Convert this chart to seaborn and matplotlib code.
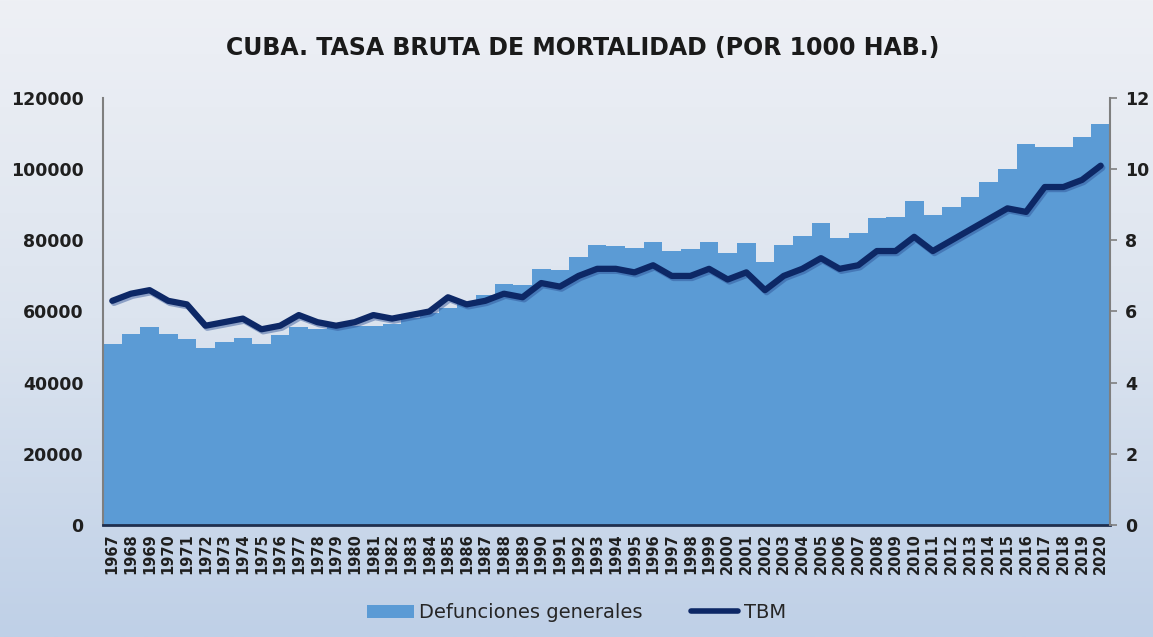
import numpy as np
import pandas as pd
import matplotlib
matplotlib.use("Agg")
import matplotlib.pyplot as plt
import matplotlib.patheffects as pe
from matplotlib.patches import Patch
from matplotlib.lines import Line2D
from matplotlib.colors import LinearSegmentedColormap
import seaborn as sns

# data
years = list(range(1967, 2021))
defunciones = [
    50900, 53700, 55600, 53700, 52300, 49600, 51300, 52500, 51000, 53300,
    55600, 55200, 55800, 56000, 56000, 56500, 58300, 59500, 61000, 62000,
    64600, 67700, 67500, 71900, 71700, 75300, 78700, 78400, 77800, 79500,
    77000, 77600, 79500, 76400, 79300, 74000, 78700, 81200, 84900, 80800,
    82000, 86300, 86600, 91100, 87100, 89400, 92200, 96400, 100000, 107000,
    106300, 106200, 109100, 112700,
]
tbm = [
    6.3, 6.5, 6.6, 6.3, 6.2, 5.6, 5.7, 5.8, 5.5, 5.6,
    5.9, 5.7, 5.6, 5.7, 5.9, 5.8, 5.9, 6.0, 6.4, 6.2,
    6.3, 6.5, 6.4, 6.8, 6.7, 7.0, 7.2, 7.2, 7.1, 7.3,
    7.0, 7.0, 7.2, 6.9, 7.1, 6.6, 7.0, 7.2, 7.5, 7.2,
    7.3, 7.7, 7.7, 8.1, 7.7, 8.0, 8.3, 8.6, 8.9, 8.8,
    9.5, 9.5, 9.7, 10.1,
]
left_ticks = [0, 20000, 40000, 60000, 80000, 100000, 120000]
right_ticks = [0, 2, 4, 6, 8, 10, 12]

df = pd.DataFrame({"year": [str(y) for y in years], "def": defunciones, "tbm": tbm})

bar_color = "#5b9bd5"
line_color = "#0d2866"

sns.set_style("white")
fig = plt.figure(figsize=(11.53, 6.37), dpi=100)

# background gradient
bg = fig.add_axes([0, 0, 1, 1], zorder=-10)
cmap = LinearSegmentedColormap.from_list("bg", ["#eef0f5", "#dce4ef", "#bfd0e7"])
grad = np.linspace(0, 1, 256).reshape(-1, 1)
bg.imshow(grad, aspect="auto", cmap=cmap, extent=[0, 1, 0, 1])
bg.axis("off")

ax = fig.add_axes([0.0893, 0.176, 0.8734, 0.670])
ax.patch.set_alpha(0)
sns.barplot(data=df, x="year", y="def", color=bar_color, width=1.0,
            saturation=1, edgecolor="none", linewidth=0, ax=ax)
ax.set_xlim(-0.5, len(years) - 0.5)
ax.set_ylim(0, 120000)
ax.set_yticks(left_ticks)
ax.set_yticklabels([str(t) for t in left_ticks], fontsize=12.5, fontweight="bold", color="#1f1f1f")
ax.set_xticks(range(len(years)))
ax.set_xticklabels(df["year"], rotation=90, fontsize=10.5, fontweight="bold", color="#1f1f1f")
ax.tick_params(axis="x", length=0, pad=6)
ax.tick_params(axis="y", length=0, pad=14)
ax.set_xlabel("")
ax.set_ylabel("")
for s in ["top", "right"]:
    ax.spines[s].set_visible(False)
ax.spines["left"].set_color("#7f7f7f")
ax.spines["left"].set_linewidth(1.5)
ax.spines["bottom"].set_color("#1f2f4f")
ax.spines["bottom"].set_linewidth(2)

ax2 = ax.twinx()
sns.lineplot(x=np.arange(len(years)), y=df["tbm"], color=line_color, linewidth=4.5,
             ax=ax2, path_effects=[pe.SimpleLineShadow(offset=(1.2, -1.5), shadow_color="#2c4f94",
                                                       alpha=0.45),
                                   pe.Normal()])
ax2.set_ylim(0, 12)
ax2.set_yticks(right_ticks)
ax2.set_yticklabels([str(t) for t in right_ticks], fontsize=12.5, fontweight="bold", color="#1f1f1f")
ax2.tick_params(axis="y", length=5, width=1.2, color="#7f7f7f", direction="out", pad=6)
ax2.set_ylabel("")
for s in ["top", "left", "bottom"]:
    ax2.spines[s].set_visible(False)
ax2.spines["right"].set_color("#7f7f7f")
ax2.spines["right"].set_linewidth(1.5)

fig.text(0.505, 0.925, "CUBA. TASA BRUTA DE MORTALIDAD (POR 1000 HAB.)",
         ha="center", va="center", fontsize=17, fontweight="bold", color="#1a1a1a")

handles = [Patch(facecolor=bar_color, edgecolor="none"),
           Line2D([0], [0], color=line_color, linewidth=4)]
fig.legend(handles, ["Defunciones generales", "TBM"], loc="center",
           bbox_to_anchor=(0.5, 0.038), ncol=2, frameon=False, fontsize=14,
           handlelength=2.4, handletextpad=0.3, columnspacing=2.5)

fig.savefig("out.png", dpi=100)
